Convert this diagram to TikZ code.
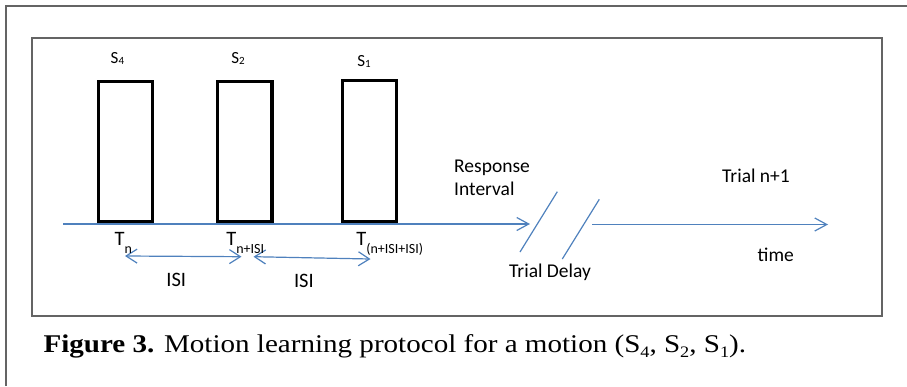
\documentclass[tikz,border=0pt]{standalone}
\usepackage{graphicx}
\usepackage{fontspec}
\setmainfont{Liberation Serif}
\newfontfamily\carlfont{Carlito}
\usetikzlibrary{arrows.meta}
\definecolor{tblue}{RGB}{79,129,189}
\definecolor{fgray}{RGB}{100,100,100}
\newcommand{\subt}[1]{\raisebox{-8pt}{\fontsize{14}{14}\selectfont #1}}
\newcommand{\subs}[1]{\raisebox{-1.5pt}{\fontsize{11}{11}\selectfont #1}}
\newcommand{\subc}[1]{\raisebox{-5pt}{\fontsize{16}{16}\selectfont #1}}
\begin{document}
\begin{tikzpicture}[x=1pt,y=-1pt,
  frame/.style={draw=fgray,line width=1.8pt},
  stim/.style={draw=black,line width=3.3pt,minimum width=54.4pt,inner sep=0pt},
  tline/.style={draw=tblue,line width=1.2pt},
  tarrow/.style={tline,-{Straight Barb[length=12pt,width=13pt,line width=1.2pt]}},
  darrow/.style={tline,{Straight Barb[length=11pt,width=14pt,line width=1.2pt]}-{Straight Barb[length=11pt,width=14pt,line width=1.2pt]}},
  lbl/.style={anchor=base west,inner sep=0pt,font=\carlfont\fontsize{19.5}{23}\selectfont},
  slbl/.style={anchor=base west,inner sep=0pt,font=\carlfont\fontsize{17}{20}\selectfont},
  tlbl/.style={anchor=base west,inner sep=0pt,font=\carlfont\fontsize{20.5}{24}\selectfont},
  captext/.style={anchor=base west,inner sep=0pt,font=\fontsize{25.5}{30}\selectfont}
]
\useasboundingbox (0,0) rectangle (907,386);
% outer frame (top and left visible)
\draw[frame] (6,386) -- (6,6) -- (907,6);
% inner frame
\draw[frame] (32,38) rectangle (882,316);
% stimulus boxes
\node[stim,minimum height=140.3pt] (b4) at (125.5,151.85) {};
\node[stim,minimum height=140.3pt] (b2) at (244.7,151.85) {};
\node[stim,minimum height=141.7pt] (b1) at (369.5,151.15) {};
% timeline
\coordinate (t0) at (63,224);
\coordinate (t1) at (530,224);
\coordinate (t2) at (592,224.5);
\coordinate (t3) at (828,224.5);
\draw[tarrow] (t0) -- (t1);
\draw[tarrow] (t2) -- (t3);
% break slashes
\coordinate (s1a) at (520,252);
\coordinate (s1b) at (557.3,191.7);
\coordinate (s2a) at (562.3,259);
\coordinate (s2b) at (599.3,199.3);
\draw[tline] (s1a) -- (s1b);
\draw[tline] (s2a) -- (s2b);
% ISI arrows
\coordinate (i1a) at (125,256);
\coordinate (i1b) at (241.5,256.7);
\coordinate (i2a) at (253.5,256.7);
\coordinate (i2b) at (370.5,259);
\draw[darrow] (i1a) -- (i1b);
\draw[darrow] (i2a) -- (i2b);
% labels
\node[slbl] (l4) at (110.5,63.3) {S\subs{4}};
\node[slbl] (l2) at (231.2,63.3) {S\subs{2}};
\node[slbl] (l1) at (357.2,66.3) {S\subs{1}};
\node[tlbl] (tn) at (114.5,245) {T\subt{n}};
\node[tlbl] (tn2) at (226.2,245) {T\subt{n+ISI}};
\node[tlbl] (tn3) at (356.2,245) {T\subt{(n+ISI+ISI)}};
\node[tlbl] (isi1) at (166.2,286) {ISI};
\node[tlbl] (isi2) at (293.8,287) {ISI};
\node[lbl] (resp) at (454,172.3) {Response};
\node[lbl] (intv) at (454,195.7) {Interval};
\node[lbl] (trial) at (722,182.3) {Trial n+1};
\node[lbl] (time) at (757.5,261.7) {time};
\node[lbl] (delay) at (509,277.3) {Trial Delay};
\node[captext] (caption) at (43.3,352.5) {\scalebox{1.14}[1]{\textbf{Figure 3.} Motion learning protocol for a motion (S\subc{4}, S\subc{2}, S\subc{1}).}};
\end{tikzpicture}
\end{document}
